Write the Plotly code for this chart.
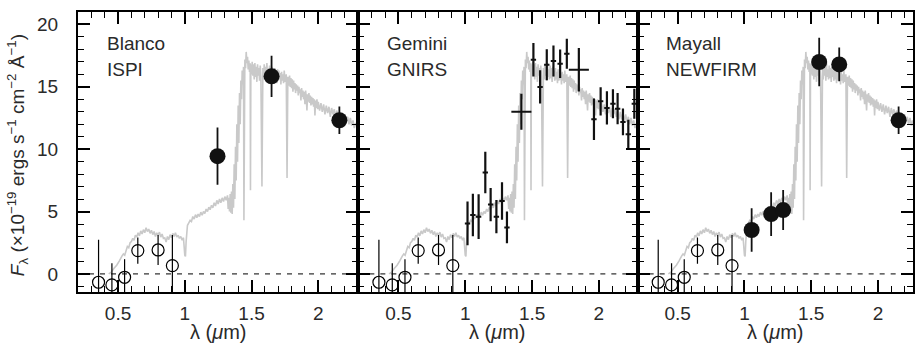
import plotly.graph_objects as go
from plotly.subplots import make_subplots

# ---------------- data ----------------
# model spectrum (wavelength in micron, flux in 1e-19 erg/s/cm2/A)
spec_wl = [0.43, 0.45, 0.47, 0.49, 0.51, 0.52, 0.53, 0.54, 0.55, 0.56, 0.57, 0.58, 0.59, 0.60,
           0.61, 0.62, 0.63, 0.64, 0.65, 0.66, 0.67, 0.68, 0.69, 0.70, 0.71, 0.72, 0.73, 0.74,
           0.75, 0.76, 0.77, 0.78, 0.79, 0.80, 0.81, 0.82, 0.83, 0.84, 0.85, 0.86, 0.87, 0.88,
           0.89, 0.90, 0.91, 0.92, 0.93, 0.94, 0.95, 0.96, 0.97, 0.98, 0.99, 1.000, 1.005, 1.01,
           1.02, 1.03, 1.04, 1.05, 1.06, 1.07, 1.08, 1.09, 1.10, 1.11, 1.12, 1.13, 1.14, 1.15,
           1.16, 1.17, 1.18, 1.19, 1.20, 1.21, 1.22, 1.23, 1.24, 1.25, 1.26, 1.27, 1.28, 1.29,
           1.30, 1.31, 1.32, 1.325, 1.33, 1.335, 1.34, 1.345, 1.35, 1.355, 1.36, 1.365, 1.37,
           1.375, 1.38, 1.385, 1.39, 1.395, 1.40, 1.405, 1.41, 1.415, 1.42, 1.425, 1.43, 1.435,
           1.44, 1.443, 1.446, 1.45, 1.455, 1.46, 1.465, 1.47, 1.475, 1.48, 1.485, 1.49, 1.492,
           1.495, 1.50, 1.505, 1.51, 1.515, 1.52, 1.525, 1.53, 1.535, 1.54, 1.545, 1.55, 1.555,
           1.56, 1.565, 1.57, 1.578, 1.585, 1.59, 1.595, 1.60, 1.605, 1.61, 1.615, 1.62, 1.625,
           1.63, 1.635, 1.64, 1.645, 1.65, 1.655, 1.66, 1.665, 1.67, 1.675, 1.68, 1.685, 1.69,
           1.695, 1.70, 1.705, 1.71, 1.715, 1.72, 1.725, 1.73, 1.735, 1.74, 1.745, 1.75, 1.755,
           1.76, 1.766, 1.772, 1.78, 1.785, 1.79, 1.795, 1.80, 1.805, 1.81, 1.815, 1.82, 1.825,
           1.83, 1.835, 1.84, 1.845, 1.85, 1.855, 1.86, 1.865, 1.87, 1.875, 1.88, 1.885, 1.89,
           1.895, 1.90, 1.905, 1.91, 1.915, 1.92, 1.925, 1.93, 1.935, 1.94, 1.945, 1.95, 1.955,
           1.96, 1.965, 1.97, 1.975, 1.98, 1.985, 1.99, 1.995, 2.00, 2.01, 2.02, 2.03, 2.04,
           2.05, 2.06, 2.07, 2.08, 2.09, 2.10, 2.11, 2.12, 2.13, 2.14, 2.15, 2.16, 2.17, 2.18,
           2.19, 2.20, 2.21, 2.22, 2.23, 2.24, 2.25, 2.26, 2.27, 2.28, 2.29, 2.30]
spec_flux = [0.0, 0.15, 0.45, 0.7, 1.05, 1.3, 1.45, 1.6, 1.5, 1.85, 2.2, 2.1, 2.5, 2.6,
             2.85, 2.7, 3.1, 2.95, 3.3, 3.05, 3.45, 3.2, 3.55, 3.3, 3.7, 3.4, 3.6, 3.25,
             3.5, 3.15, 3.4, 3.0, 3.3, 3.1, 3.35, 2.95, 3.2, 2.85, 2.9, 2.55, 3.0, 2.75,
             3.15, 2.9, 3.25, 3.0, 3.3, 2.95, 3.1, 2.85, 3.0, 2.7, 2.9, 1.5, 1.4, 2.6,
             3.9, 4.1, 4.3, 4.2, 4.6, 4.4, 4.75, 4.5, 4.8, 4.6, 4.95, 4.7, 5.0, 4.85,
             5.2, 5.0, 5.35, 5.15, 5.5, 5.3, 5.7, 5.45, 5.9, 5.6, 6.0, 5.7, 6.1, 5.8,
             6.2, 5.9, 6.3, 5.2, 6.1, 5.0, 6.4, 4.9, 6.6, 4.8, 7.2, 5.3, 8.8,
             6.0, 10.2, 7.5, 12.0, 9.0, 13.5, 10.5, 14.5, 12.0, 15.5, 14.0, 16.3, 15.2,
             16.6, 4.3, 16.8, 17.2, 16.5, 17.8, 16.9, 17.4, 16.4, 17.1, 16.2, 16.9, 6.7,
             16.8, 16.0, 17.0, 15.9, 16.8, 15.6, 16.9, 15.8, 16.6, 15.4, 16.8, 15.9, 16.5,
             15.5, 16.7, 15.8, 7.0, 16.5, 15.6, 16.8, 15.9, 16.6, 15.5, 16.9, 15.8, 16.4,
             15.6, 16.7, 15.7, 16.5, 15.4, 16.6, 15.8, 16.3, 15.5, 16.5, 15.6, 16.2, 15.3,
             16.4, 15.5, 16.3, 15.6, 16.1, 15.2, 16.2, 15.5, 16.0, 15.3, 16.3, 15.4, 15.9,
             16.0, 7.7, 15.8, 15.1, 15.9, 15.0, 15.7, 14.9, 15.6, 14.6, 15.5, 14.8, 15.3,
             14.5, 15.2, 14.7, 15.1, 14.3, 15.0, 14.5, 14.8, 13.9, 14.9, 14.2, 14.7, 14.0,
             14.6, 13.6, 14.7, 14.1, 13.1, 14.4, 13.8, 14.5, 13.7, 14.3, 13.5, 14.2, 13.6,
             14.1, 13.4, 14.0, 12.7, 13.9, 13.3, 14.0, 13.2, 13.8, 13.1, 13.7, 13.0, 13.6,
             12.8, 13.5, 12.9, 13.4, 12.6, 13.3, 12.8, 13.2, 12.6, 13.1, 12.4, 13.0, 12.4,
             12.9, 12.2, 12.8, 12.2, 12.6, 12.0, 12.5, 11.9, 12.3, 11.7, 12.1, 11.8]

# optical photometry (open circles, same in all panels)
opt_wl = [0.354, 0.454, 0.549, 0.648, 0.800, 0.907]
opt_flux = [-0.67, -0.88, -0.27, 1.87, 1.92, 0.67]
opt_err = [3.4, 1.73, 1.45, 1.05, 1.2, 2.45]

# Blanco / ISPI photometry
ispi_wl = [1.245, 1.650, 2.158]
ispi_flux = [9.44, 15.84, 12.32]
ispi_err = [2.3, 1.65, 1.1]

# Gemini / GNIRS photometry
gnirs_wl = [1.017, 1.057, 1.100, 1.150, 1.190, 1.233, 1.275, 1.312, 1.420, 1.510, 1.560,
            1.610, 1.660, 1.710, 1.760, 1.850, 1.963, 2.013, 2.060, 2.105, 2.140, 2.180,
            2.220, 2.265]
gnirs_flux = [4.05, 4.72, 4.59, 8.13, 5.56, 4.59, 5.84, 3.73, 13.0, 17.17, 14.99,
              16.77, 17.07, 16.85, 17.65, 16.37, 12.4, 13.84, 13.31, 13.65, 13.25, 12.19,
              11.2, 13.65]
gnirs_err = [1.75, 1.7, 1.8, 1.67, 1.33, 1.33, 1.5, 1.27, 1.45, 1.35, 1.33,
             1.25, 1.25, 1.15, 1.2, 1.75, 1.67, 1.13, 1.33, 1.16, 1.25, 1.07,
             1.16, 1.2]
gnirs_xerr = [0.02, 0.02, 0.02, 0.02, 0.02, 0.02, 0.02, 0.02, 0.075, 0.02, 0.02,
              0.02, 0.02, 0.02, 0.02, 0.075, 0.02, 0.02, 0.02, 0.02, 0.02, 0.02,
              0.02, 0.02]

# Mayall / NEWFIRM photometry
nf_wl = [1.054, 1.200, 1.290, 1.560, 1.710, 2.155]
nf_flux = [3.52, 4.80, 5.12, 16.99, 16.80, 12.32]
nf_err = [1.75, 1.75, 1.6, 1.95, 1.35, 1.1]

panel_labels = [("Blanco", "ISPI"), ("Gemini", "GNIRS"), ("Mayall", "NEWFIRM")]
x_tickvals = [0.5, 1, 1.5, 2]
x_ticktext = ["0.5", "1", "1.5", "2"]
y_tickvals = [0, 5, 10, 15, 20]
y_ticktext = ["0", "5", "10", "15", "20"]

# ---------------- figure ----------------
FONT = "Liberation Sans"
TXT = "#2a2a2a"
GRAY = "#c9c9c9"

fig = make_subplots(rows=1, cols=3, shared_yaxes=True, horizontal_spacing=0)

for c in (1, 2, 3):
    fig.add_trace(go.Scatter(x=spec_wl, y=spec_flux, mode="lines",
                             line=dict(color=GRAY, width=1.6), hoverinfo="skip",
                             showlegend=False), row=1, col=c)
    fig.add_trace(go.Scatter(x=opt_wl, y=opt_flux, mode="markers",
                             marker=dict(symbol="circle-open", size=12, color="black",
                                         line=dict(width=1.2, color="black")),
                             error_y=dict(type="data", array=opt_err, color="black",
                                          thickness=1.2, width=0),
                             showlegend=False), row=1, col=c)

fig.add_trace(go.Scatter(x=ispi_wl, y=ispi_flux, mode="markers",
                         marker=dict(symbol="circle", size=16, color="#111111"),
                         error_y=dict(type="data", array=ispi_err, color="#111111",
                                      thickness=1.8, width=0),
                         showlegend=False), row=1, col=1)

fig.add_trace(go.Scatter(x=gnirs_wl, y=gnirs_flux, mode="markers",
                         marker=dict(symbol="circle", size=1, color="#111111"),
                         error_y=dict(type="data", array=gnirs_err, color="#111111",
                                      thickness=2.2, width=0),
                         error_x=dict(type="data", array=gnirs_xerr, color="#111111",
                                      thickness=2.0, width=0),
                         showlegend=False), row=1, col=2)

fig.add_trace(go.Scatter(x=nf_wl, y=nf_flux, mode="markers",
                         marker=dict(symbol="circle", size=16, color="#111111"),
                         error_y=dict(type="data", array=nf_err, color="#111111",
                                      thickness=1.8, width=0),
                         showlegend=False), row=1, col=3)

W, H = 915, 347
L, R, T, B = 78, 0, 12, 55
pw = W - L - R
ph = H - T - B
edges = [78, 359, 639, 915]
doms = [((edges[i] - L) / pw, (edges[i + 1] - L) / pw) for i in range(3)]
xranges = [[0.2, 2.3], [0.2, 2.29], [0.2, 0.2 + (915 - 639) / 133.8]]

axis_common = dict(showline=True, linewidth=2, linecolor="black", mirror="allticks",
                   ticks="inside", tickwidth=1.6, tickcolor="black",
                   showgrid=False, zeroline=False,
                   tickfont=dict(family=FONT, size=19, color=TXT))

for i in range(3):
    xa = "xaxis" if i == 0 else f"xaxis{i+1}"
    ya = "yaxis" if i == 0 else f"yaxis{i+1}"
    fig.update_layout({
        xa: dict(axis_common, domain=list(doms[i]), range=xranges[i],
                 tickmode="array", tickvals=x_tickvals, ticktext=x_ticktext, ticklen=12,
                 ticklabelstandoff=3,
                 minor=dict(dtick=0.1, tick0=0, ticks="inside", ticklen=6,
                            tickwidth=1.4, tickcolor="black", showgrid=False)),
        ya: dict(axis_common, range=[-1.45, 21], tickmode="array",
                 tickvals=y_tickvals, ticktext=y_ticktext, ticklen=12,
                 showticklabels=(i == 0), ticklabelstandoff=14,
                 minor=dict(dtick=1, tick0=0, ticks="inside", ticklen=6,
                            tickwidth=1.4, tickcolor="black", showgrid=False)),
    })
    xref = "x domain" if i == 0 else f"x{i+1} domain"
    yref = "y" if i == 0 else f"y{i+1}"
    fig.add_shape(type="line", xref=xref, yref=yref, x0=0, x1=1, y0=0, y1=0,
                  line=dict(color="black", width=1, dash="5px,6px"), layer="below")
    ydref = "y domain" if i == 0 else f"y{i+1} domain"
    fig.add_annotation(xref=xref, yref=ydref, x=0.095, y=0.889, xanchor="left",
                       yanchor="middle", showarrow=False, text=panel_labels[i][0],
                       font=dict(family=FONT, size=19, color=TXT))
    fig.add_annotation(xref=xref, yref=ydref, x=0.095, y=0.793, xanchor="left",
                       yanchor="middle", showarrow=False, text=panel_labels[i][1],
                       font=dict(family=FONT, size=19, color=TXT))
    # x-axis title
    fig.add_annotation(xref=xref, yref="paper", x=0.5, y=-(332 - (T + ph)) / ph,
                       xanchor="center", yanchor="middle", showarrow=False,
                       text="λ (<i>μ</i>m)",
                       font=dict(family=FONT, size=20, color=TXT))

fig.add_annotation(xref="paper", yref="paper", x=(17 - L) / pw, y=1 - (155 - T) / ph,
                   xanchor="center", yanchor="middle", textangle=-90, showarrow=False,
                   text="<i>F</i><sub>λ</sub> (×10<sup>−19</sup> ergs s<sup>−1</sup> cm<sup>−2</sup> Å<sup>−1</sup>)",
                   font=dict(family=FONT, size=19, color=TXT))

fig.update_layout(width=W, height=H, margin=dict(l=L, r=R, t=T, b=B),
                  paper_bgcolor="white", plot_bgcolor="white", showlegend=False)

fig.write_html("out.html")
